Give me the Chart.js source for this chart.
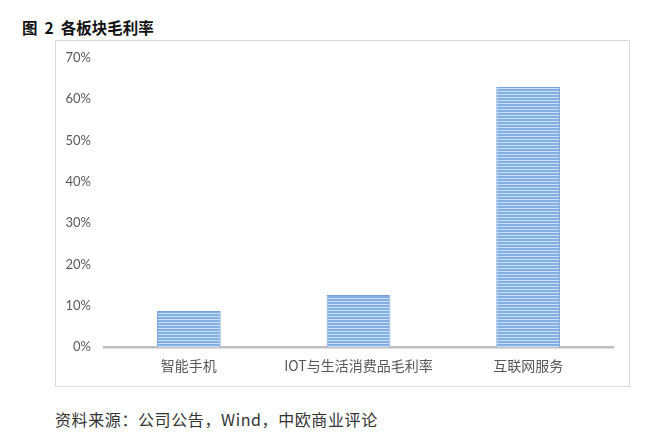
<!DOCTYPE html>
<html>
<head>
<meta charset="utf-8">
<script src="https://cdn.jsdelivr.net/npm/chart.js@4.4.0/dist/chart.umd.min.js"></script>
<style>
  html, body { margin: 0; padding: 0; background: #fff; width: 650px; height: 437px; overflow: hidden; }
  #title { position: absolute; left: 22px; top: 17px; font-family: "Noto Sans CJK SC", sans-serif; font-size: 15.5px; font-weight: bold; color: #111; line-height: 20px; white-space: nowrap; }
  #title .gap { display: inline-block; width: 7px; }
  #box { position: absolute; left: 55px; top: 40px; width: 573px; height: 345px; border: 1px solid #d9d9d9; }
  #wrap { position: absolute; left: 0; top: 0; width: 573px; height: 345px; }
  #source { position: absolute; left: 55px; top: 408px; font-family: "Noto Sans CJK SC", sans-serif; font-size: 16px; color: #333; line-height: 22px; white-space: nowrap; letter-spacing: 0.6px; }
</style>
</head>
<body>
<div id="title">图<span class="gap"></span>2<span class="gap"></span>各板块毛利率</div>
<div id="box"><div id="wrap"><canvas id="c"></canvas></div></div>
<div id="source">资料来源：公司公告，Wind，中欧商业评论</div>
<script>
const categories = ["智能手机", "IOT与生活消费品毛利率", "互联网服务"];
const grossMargin = [8.7, 12.6, 63.0];
const yTicks = [0, 10, 20, 30, 40, 50, 60, 70];

function stripePattern() {
  const p = document.createElement('canvas');
  p.width = 4; p.height = 3;
  const g = p.getContext('2d');
  g.fillStyle = '#84afe3';
  g.fillRect(0, 0, 4, 3);
  g.fillStyle = '#cadef5';
  g.fillRect(0, 2, 4, 1);
  return g.createPattern(p, 'repeat');
}
const ctx = document.getElementById('c').getContext('2d');

new Chart(ctx, {
  type: 'bar',
  data: {
    labels: categories,
    datasets: [{
      data: grossMargin,
      backgroundColor: stripePattern(),
      borderColor: '#7aa6dc',
      borderWidth: 1,
      borderSkipped: 'start',
      barPercentage: 0.376,
      categoryPercentage: 1.0
    }]
  },
  options: {
    responsive: true,
    maintainAspectRatio: false,
    animation: false,
    devicePixelRatio: 1,
    layout: { padding: { left: 0, right: 16, top: 17, bottom: 0 } },
    plugins: { legend: { display: false }, tooltip: { enabled: false }, title: { display: false } },
    scales: {
      x: {
        grid: { display: false, drawTicks: false },
        border: { display: true, color: '#bfbfbf', width: 2.5 },
        ticks: { padding: 10, color: '#595959', font: { family: '"Noto Sans CJK SC", sans-serif', size: 14 }, maxRotation: 0 },
        afterFit: s => { s.height = 39; s.paddingLeft = 0; s.paddingRight = 0; }
      },
      y: {
        min: 0, max: 70,
        afterBuildTicks: s => { s.ticks = yTicks.map(v => ({ value: v })); },
        grid: { display: false, drawTicks: false },
        border: { display: false },
        ticks: { padding: 13, color: '#595959', font: { family: 'Lato, "Open Sans", sans-serif', size: 13 }, callback: v => v + '%' },
        afterFit: s => { s.width = 48; s.paddingTop = 0; s.paddingBottom = 0; }
      }
    }
  }
});
</script>
</body>
</html>
